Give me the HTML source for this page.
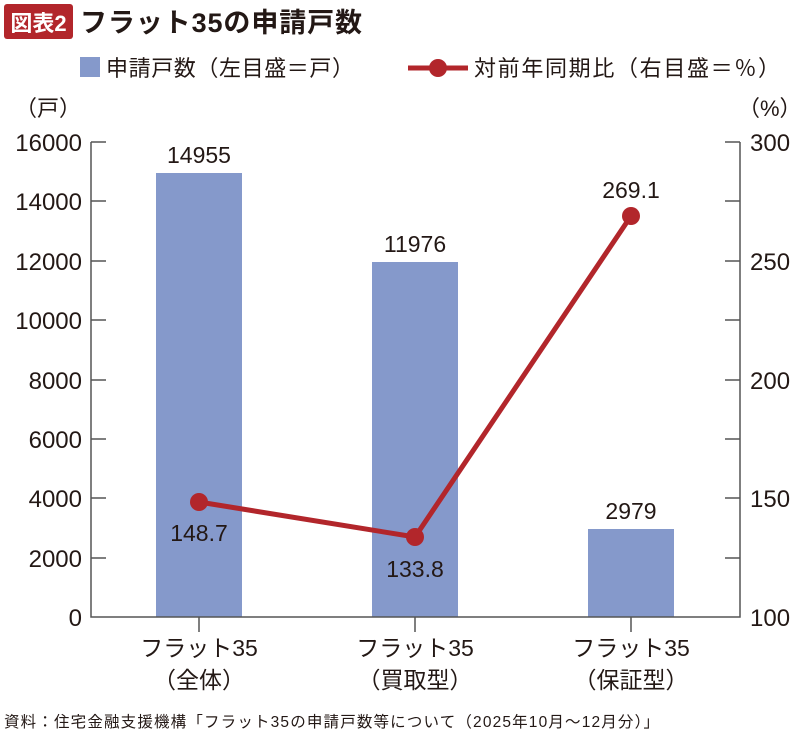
<!DOCTYPE html>
<html><head><meta charset="utf-8"><style>
body{margin:0;background:#fff;}
svg text{font-family:"Liberation Sans","Noto Sans CJK JP",sans-serif;fill:#231815;}
</style></head><body>
<svg width="800" height="735" xmlns="http://www.w3.org/2000/svg">
<rect x="4" y="4" width="69" height="35" rx="3" fill="#b2262b"/>
<text x="38.5" y="31" font-size="22" font-weight="bold" text-anchor="middle" style="fill:#fff">図表2</text>
<text x="80" y="32" font-size="27" font-weight="bold" textLength="282">フラット35の申請戸数</text>
<rect x="80" y="57" width="20" height="20" fill="#8599cb"/>
<text x="106" y="76" font-size="22" textLength="248">申請戸数（左目盛＝戸）</text>
<line x1="408" y1="68" x2="468" y2="68" stroke="#b2262b" stroke-width="5"/>
<circle cx="438" cy="68" r="9" fill="#b2262b"/>
<text x="474" y="76" font-size="22" textLength="306">対前年同期比（右目盛＝％）</text>
<text x="15" y="116" font-size="22">（戸）</text>
<text x="738" y="116" font-size="22">（%）</text>
<g font-size="24" text-anchor="end">
<text x="82" y="151">16000</text><text x="82" y="210">14000</text><text x="82" y="270">12000</text>
<text x="82" y="329">10000</text><text x="82" y="389">8000</text><text x="82" y="448">6000</text>
<text x="82" y="507">4000</text><text x="82" y="567">2000</text><text x="82" y="626">0</text>
</g>
<g font-size="24">
<text x="750" y="151">300</text><text x="750" y="270">250</text><text x="750" y="389">200</text>
<text x="750" y="507">150</text><text x="750" y="626">100</text>
</g>
<rect x="156" y="173" width="86" height="444" fill="#8599cb"/>
<rect x="372" y="262" width="86" height="355" fill="#8599cb"/>
<rect x="588" y="529" width="86" height="88" fill="#8599cb"/>
<g stroke="#555" stroke-width="1.5" fill="none">
<polyline points="91,142 91,617 740,617 740,142"/>
<path d="M91,142h15M91,201h15M91,261h15M91,320h15M91,380h15M91,439h15M91,498h15M91,558h15"/>
<path d="M740,142h-15M740,201h-15M740,261h-15M740,320h-15M740,380h-15M740,439h-15M740,498h-15M740,558h-15"/>
<path d="M199,617v15M415,617v15M631,617v15"/>
</g>
<g font-size="23" text-anchor="middle">
<text x="199" y="163">14955</text><text x="415" y="252">11976</text><text x="631" y="519">2979</text>
</g>
<polyline points="199,502 415,537 631,216" fill="none" stroke="#b2262b" stroke-width="5"/>
<circle cx="199" cy="502" r="9" fill="#b2262b"/><circle cx="415" cy="537" r="9" fill="#b2262b"/><circle cx="631" cy="216" r="9" fill="#b2262b"/>
<g font-size="23" text-anchor="middle">
<text x="199" y="541">148.7</text><text x="415" y="577">133.8</text><text x="631" y="198">269.1</text>
</g>
<g font-size="23" text-anchor="middle">
<text x="199" y="656">フラット35</text><text x="199" y="688">（全体）</text>
<text x="415" y="656">フラット35</text><text x="415" y="688">（買取型）</text>
<text x="631" y="656">フラット35</text><text x="631" y="688">（保証型）</text>
</g>
<text x="4" y="727" font-size="15.5" textLength="655">資料：住宅金融支援機構「フラット35の申請戸数等について（2025年10月〜12月分）」</text>
</svg>
</body></html>
